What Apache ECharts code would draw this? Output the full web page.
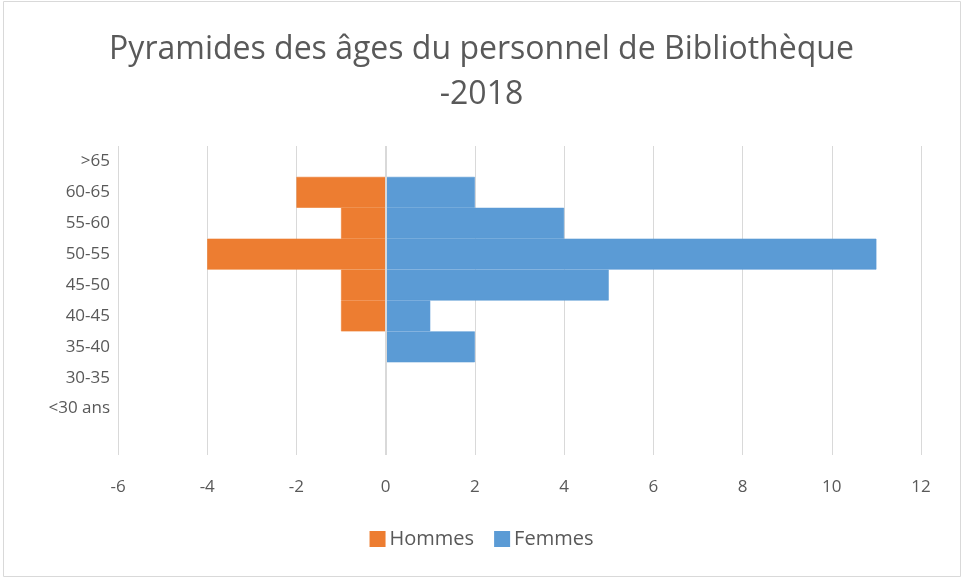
<!DOCTYPE html>
<html><head><meta charset="utf-8">
<script src="https://cdn.jsdelivr.net/npm/echarts@6/dist/echarts.min.js"></script>
<style>html,body{margin:0;padding:0;background:#fff}#c{width:963px;height:578px}</style>
</head><body><div id="c"></div>
<script>
const categories = ['', '<30 ans', '30-35', '35-40', '40-45', '45-50', '50-55', '55-60', '60-65', '>65'];
const hommes = ['-', '-', '-', '-', -1, -1, -4, -1, -2, '-'];
const femmes = ['-', '-', '-', 2, 1, 5, 11, 4, 2, '-'];
const xTicks = { min: -6, max: 12, interval: 2 };
const titleText = 'Pyramides des âges du personnel de Bibliothèque\n-2018';

const FONT = 'Open Sans';
const GRAY = '#595959';
const chart = echarts.init(document.getElementById('c'), null, { renderer: 'canvas' });
chart.setOption({
  animation: false,
  textStyle: { fontFamily: FONT },
  title: {
    text: titleText, left: 'center', top: 22,
    textStyle: { fontFamily: FONT, fontSize: 32, fontWeight: 'normal', color: GRAY, lineHeight: 45 }
  },
  legend: {
    bottom: 24, left: 'center', icon: 'rect', itemWidth: 14, itemHeight: 14, itemGap: 20,
    textStyle: { fontFamily: FONT, fontSize: 20, color: GRAY },
    data: ['Hommes', 'Femmes']
  },
  grid: { left: 118, right: 42, top: 146, bottom: 123, containLabel: false },
  xAxis: {
    type: 'value', min: xTicks.min, max: xTicks.max, interval: xTicks.interval,
    axisLine: { show: false }, axisTick: { show: false },
    axisLabel: { color: GRAY, fontSize: 17, margin: 24, fontFamily: FONT },
    splitLine: { show: true, lineStyle: { color: '#d9d9d9', width: 1 } }
  },
  yAxis: {
    type: 'category', data: categories,
    axisLine: { show: false }, axisTick: { show: false },
    axisLabel: { color: GRAY, fontSize: 17, margin: 8, fontFamily: FONT },
    splitLine: { show: false }
  },
  graphic: [{
    type: 'rect', shape: { x: 3.5, y: 1.5, width: 957, height: 575 },
    style: { fill: 'none', stroke: '#d9d9d9', lineWidth: 1 }, silent: true
  }],
  series: [
    {
      name: 'Hommes', type: 'bar', stack: 'p', data: hommes, barWidth: '100%', barCategoryGap: '0%',
      itemStyle: { color: '#ed7d31', borderColor: '#ed7d31', borderWidth: 0.6 },
      markLine: {
        silent: true, symbol: 'none', label: { show: false },
        lineStyle: { color: '#d9d9d9', type: 'solid', width: 2 },
        data: [{ xAxis: 0 }]
      }
    },
    {
      name: 'Femmes', type: 'bar', stack: 'p', data: femmes, barWidth: '100%', barCategoryGap: '0%',
      itemStyle: { color: '#5b9bd5', borderColor: '#5b9bd5', borderWidth: 0.6 }
    }
  ]
});
</script></body></html>
